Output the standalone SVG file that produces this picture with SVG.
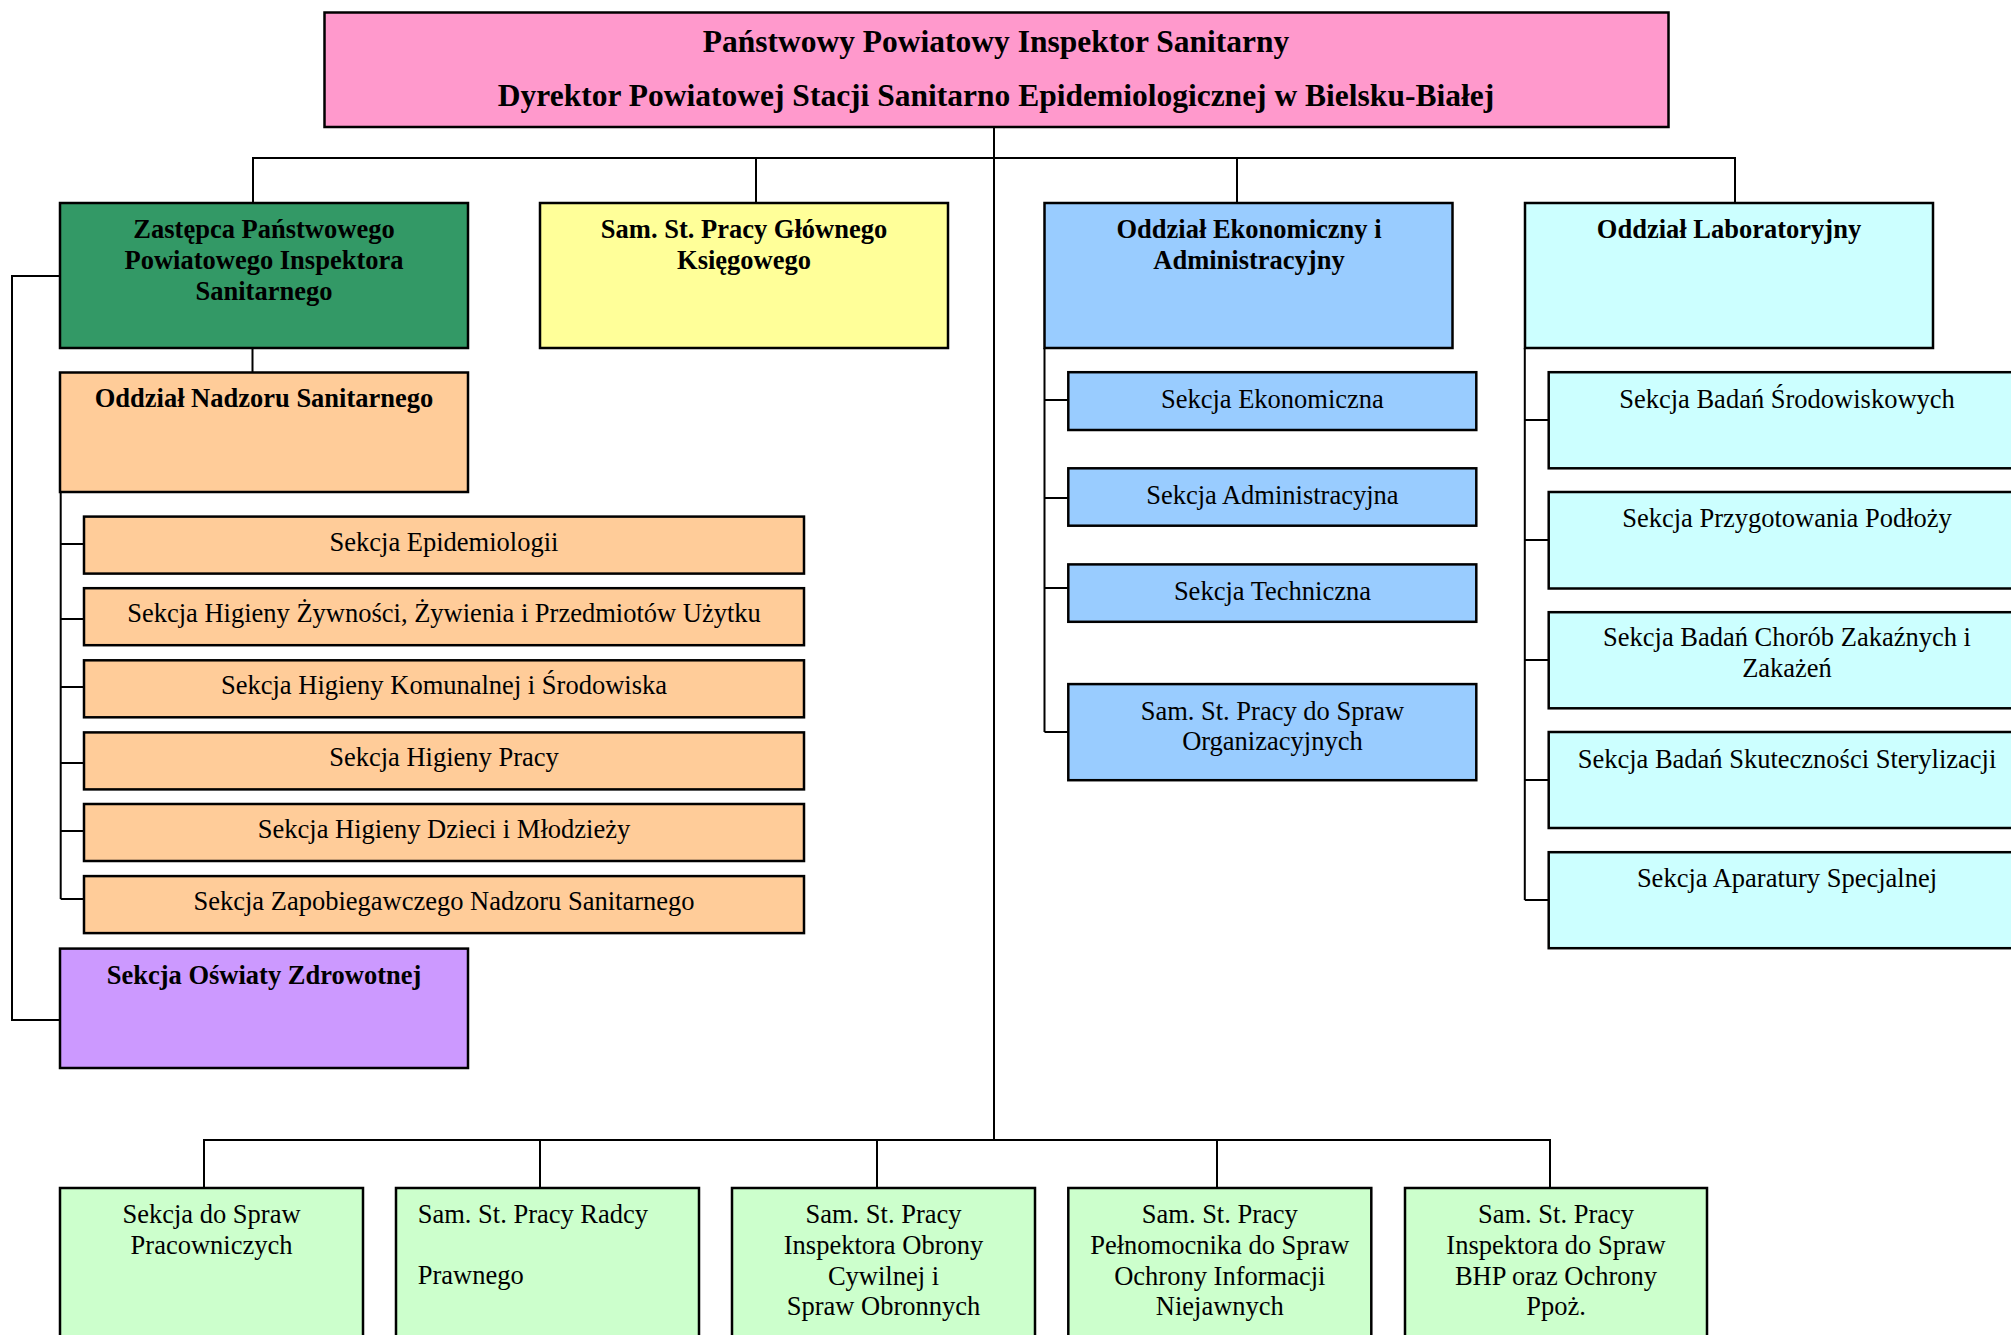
<svg xmlns="http://www.w3.org/2000/svg" width="2011" height="1335" viewBox="0 0 2011 1335">
<style>
.box{stroke:#000;stroke-width:2.5}
.ln{stroke:#000;stroke-width:2;fill:none}
text{font-family:"Liberation Serif","Times New Roman",serif;font-size:26.5px;fill:#000;text-anchor:middle}
.b{font-weight:bold}
.t{font-size:31.5px;font-weight:bold}
.pink{fill:#FF99CC}.green{fill:#339966}.yellow{fill:#FFFF99}.blue{fill:#99CCFF}.cyan{fill:#CCFFFF}.orange{fill:#FFCC99}.purple{fill:#CC99FF}.lgreen{fill:#CCFFCC}
</style>
<rect width="2011" height="1335" fill="#fff"/>
<g id="connectors">
<path class="ln" d="M994 127V1140"/>
<path class="ln" d="M253 203V158H1735V203M756 158V203M1237 158V203"/>
<path class="ln" d="M252.5 348V372"/>
<path class="ln" d="M60 276H12V1020H60"/>
<path class="ln" d="M60.7 492V899M60.7 544H84M60.7 619H84M60.7 687H84M60.7 763H84M60.7 831H84M60.7 899H84"/>
<path class="ln" d="M1044.5 348V732M1044.5 400H1068M1044.5 498H1068M1044.5 588H1068M1044.5 732H1068"/>
<path class="ln" d="M1524.8 348V900M1524.8 420H1548M1524.8 540H1548M1524.8 660H1548M1524.8 780H1548M1524.8 900H1548"/>
<path class="ln" d="M204 1188V1140H1550V1188M540 1140V1188M877 1140V1188M1217 1140V1188"/>
</g>
<g id="top"><rect class="box pink" x="324.5" y="12.5" width="1344" height="114.5"/>
<text class="t" x="996" y="52">Państwowy Powiatowy Inspektor Sanitarny</text>
<text class="t" x="996" y="106">Dyrektor Powiatowej Stacji Sanitarno Epidemiologicznej w Bielsku-Białej</text></g>
<g id="zastepca"><rect class="box green" x="60" y="203" width="408" height="145"/>
<text class="b" x="264" y="238">Zastępca Państwowego</text>
<text class="b" x="264" y="269">Powiatowego Inspektora</text>
<text class="b" x="264" y="300">Sanitarnego</text></g>
<g id="ksiegowy"><rect class="box yellow" x="540" y="203" width="408" height="145"/>
<text class="b" x="744" y="238">Sam. St. Pracy Głównego</text>
<text class="b" x="744" y="269">Księgowego</text></g>
<g id="ekonomiczny"><rect class="box blue" x="1044.5" y="203" width="408" height="145"/>
<text class="b" x="1249" y="238">Oddział Ekonomiczny i</text>
<text class="b" x="1249" y="269">Administracyjny</text></g>
<g id="laboratoryjny"><rect class="box cyan" x="1525" y="203" width="408" height="145"/>
<text class="b" x="1729" y="238">Oddział Laboratoryjny</text></g>
<g id="nadzor"><rect class="box orange" x="60" y="372.5" width="408" height="119.5"/>
<text class="b" x="264" y="407">Oddział Nadzoru Sanitarnego</text></g>
<g id="s-epid"><rect class="box orange" x="84" y="516.6" width="720" height="57"/><text x="444" y="550.6">Sekcja Epidemiologii</text></g>
<g id="s-zyw"><rect class="box orange" x="84" y="588.2" width="720" height="57"/><text x="444" y="622.2">Sekcja Higieny Żywności, Żywienia i Przedmiotów Użytku</text></g>
<g id="s-kom"><rect class="box orange" x="84" y="660.3" width="720" height="57"/><text x="444" y="694.3">Sekcja Higieny Komunalnej i Środowiska</text></g>
<g id="s-pracy"><rect class="box orange" x="84" y="732.4" width="720" height="57"/><text x="444" y="766.4">Sekcja Higieny Pracy</text></g>
<g id="s-dzieci"><rect class="box orange" x="84" y="804" width="720" height="57"/><text x="444" y="838">Sekcja Higieny Dzieci i Młodzieży</text></g>
<g id="s-zapob"><rect class="box orange" x="84" y="876.1" width="720" height="57"/><text x="444" y="910.1">Sekcja Zapobiegawczego Nadzoru Sanitarnego</text></g>
<g id="oswiata"><rect class="box purple" x="60" y="948.6" width="408" height="119.4"/>
<text class="b" x="264" y="983.5">Sekcja Oświaty Zdrowotnej</text></g>
<g id="s-ekon"><rect class="box blue" x="1068.3" y="372.2" width="408" height="57.8"/><text x="1272.4" y="407.8">Sekcja Ekonomiczna</text></g>
<g id="s-adm"><rect class="box blue" x="1068.3" y="468.3" width="408" height="57.4"/><text x="1272.4" y="503.9">Sekcja Administracyjna</text></g>
<g id="s-tech"><rect class="box blue" x="1068.3" y="564.4" width="408" height="57.4"/><text x="1272.4" y="600">Sekcja Techniczna</text></g>
<g id="s-org"><rect class="box blue" x="1068.3" y="684.1" width="408" height="96.1"/>
<text x="1272.4" y="719.7">Sam. St. Pracy do Spraw</text><text x="1272.4" y="750.4">Organizacyjnych</text></g>
<g id="l-srod"><rect class="box cyan" x="1548.7" y="372.2" width="480" height="96.1"/><text x="1787" y="407.8">Sekcja Badań Środowiskowych</text></g>
<g id="l-podl"><rect class="box cyan" x="1548.7" y="492" width="480" height="96.5"/><text x="1787" y="527.2">Sekcja Przygotowania Podłoży</text></g>
<g id="l-chor"><rect class="box cyan" x="1548.7" y="612.2" width="480" height="96.1"/>
<text x="1787" y="646.3">Sekcja Badań Chorób Zakaźnych i</text><text x="1787" y="676.9">Zakażeń</text></g>
<g id="l-ster"><rect class="box cyan" x="1548.7" y="732" width="480" height="96"/><text x="1787" y="767.6">Sekcja Badań Skuteczności Sterylizacji</text></g>
<g id="l-apar"><rect class="box cyan" x="1548.7" y="852.2" width="480" height="96"/><text x="1787" y="887.4">Sekcja Aparatury Specjalnej</text></g>
<g id="b-prac"><rect class="box lgreen" x="60" y="1188" width="303" height="170"/>
<text x="211.5" y="1223.3">Sekcja do Spraw</text><text x="211.5" y="1254.3">Pracowniczych</text></g>
<g id="b-radca"><rect class="box lgreen" x="396" y="1188" width="303" height="170"/>
<text x="417.7" y="1223.3" style="text-anchor:start">Sam. St. Pracy Radcy</text><text x="417.7" y="1284.3" style="text-anchor:start">Prawnego</text></g>
<g id="b-obrona"><rect class="box lgreen" x="732" y="1188" width="303" height="170"/>
<text x="883.5" y="1223.3">Sam. St. Pracy</text><text x="883.5" y="1254.3">Inspektora Obrony</text><text x="883.5" y="1284.8">Cywilnej i</text><text x="883.5" y="1315.3">Spraw Obronnych</text></g>
<g id="b-inf"><rect class="box lgreen" x="1068.3" y="1188" width="303" height="170"/>
<text x="1219.8" y="1223.3">Sam. St. Pracy</text><text x="1219.8" y="1254.3">Pełnomocnika do Spraw</text><text x="1219.8" y="1284.8">Ochrony Informacji</text><text x="1219.8" y="1315.3">Niejawnych</text></g>
<g id="b-bhp"><rect class="box lgreen" x="1405" y="1188" width="302" height="170"/>
<text x="1556" y="1223.3">Sam. St. Pracy</text><text x="1556" y="1254.3">Inspektora do Spraw</text><text x="1556" y="1284.8">BHP oraz Ochrony</text><text x="1556" y="1315.3">Ppoż.</text></g>
</svg>
